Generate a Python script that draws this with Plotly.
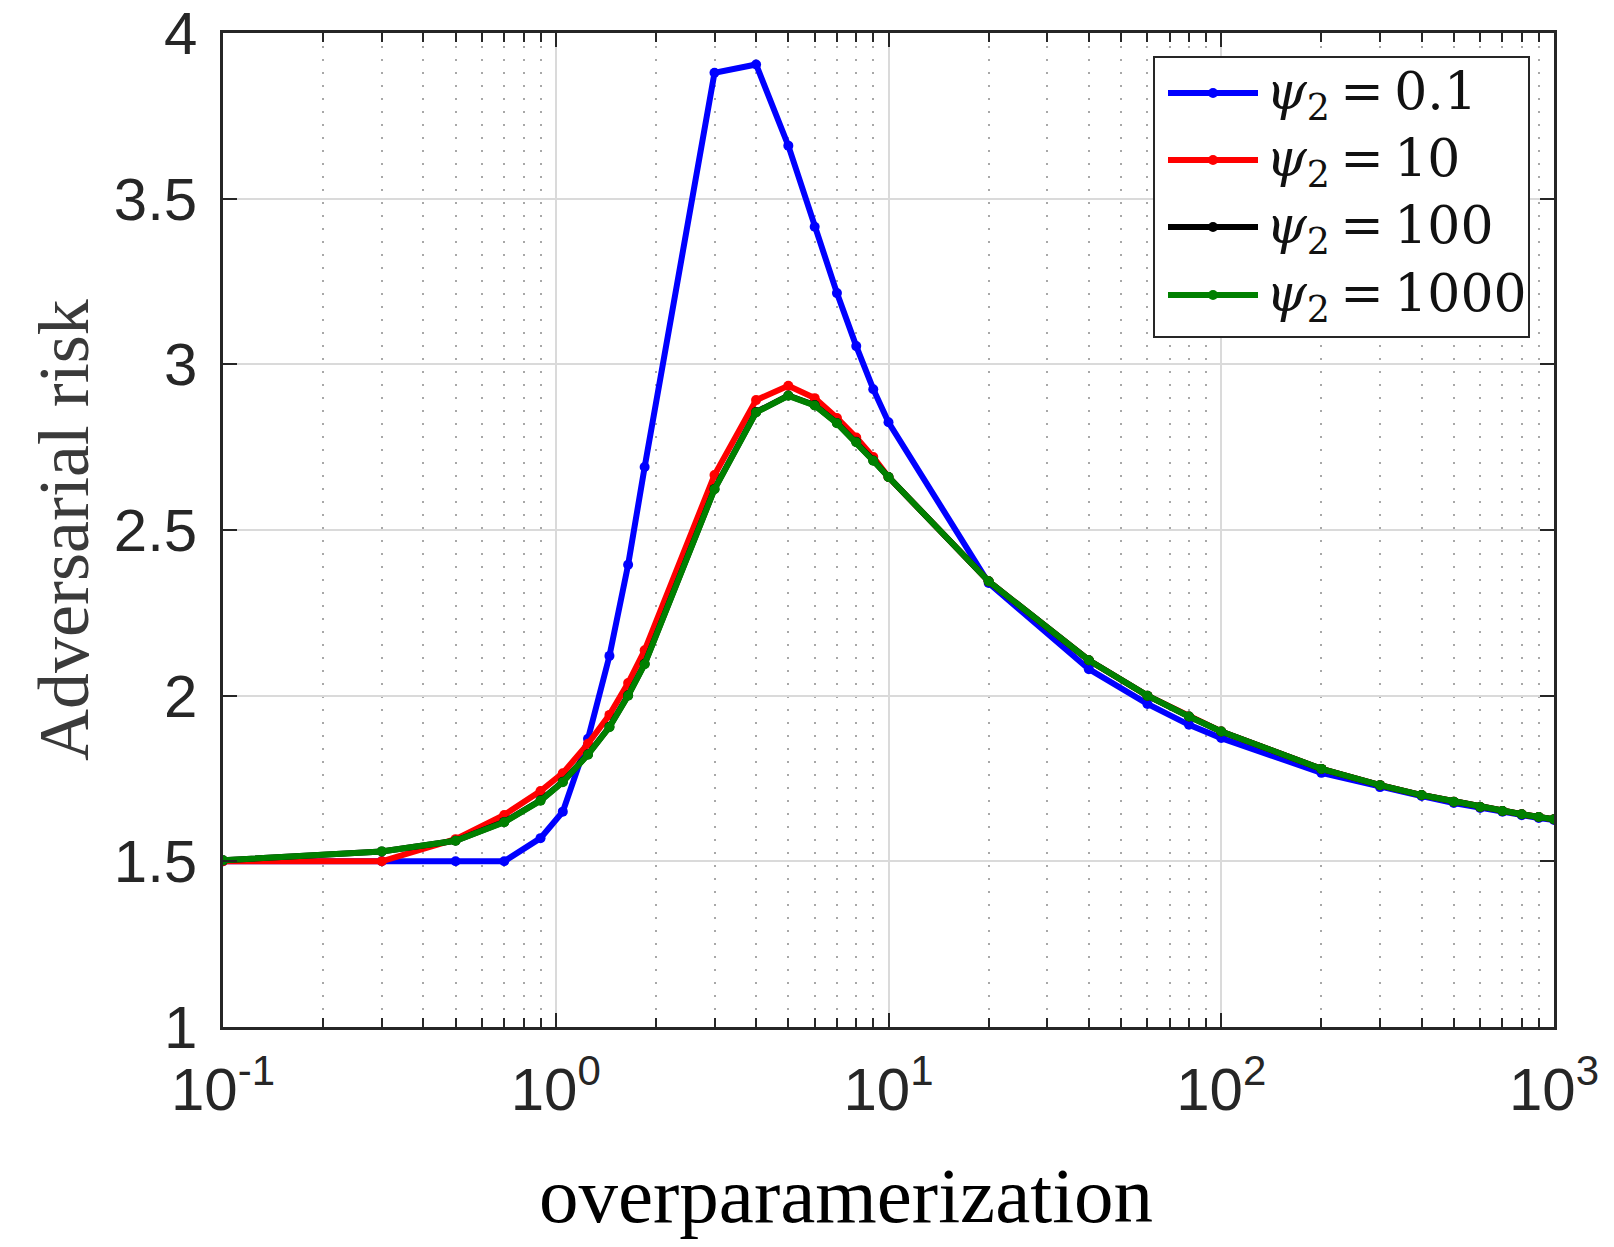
import plotly.graph_objects as go

# ---- data ----
overparam = [0.1, 0.3, 0.5, 0.7, 0.9, 1.05, 1.25, 1.45, 1.65, 1.85, 3, 4, 5, 6, 7, 8, 9, 10,
             20, 40, 60, 80, 100, 200, 300, 400, 500, 600, 700, 800, 900, 1000]

risk_psi_0_1 = [1.5, 1.5, 1.5, 1.5, 1.57, 1.65, 1.87, 2.12, 2.395, 2.69, 3.88, 3.905, 3.66,
                3.415, 3.215, 3.055, 2.925, 2.825, 2.34, 2.08, 1.975, 1.912, 1.872, 1.767,
                1.724, 1.697, 1.676, 1.661, 1.65, 1.639, 1.631, 1.625]

risk_psi_10 = [1.5, 1.5, 1.567, 1.64, 1.712, 1.766, 1.855, 1.942, 2.038, 2.137, 2.666, 2.892,
               2.935, 2.898, 2.838, 2.779, 2.72, 2.66, 2.345, 2.107, 2.0, 1.937, 1.892, 1.779,
               1.73, 1.70, 1.68, 1.664, 1.652, 1.642, 1.634, 1.627]

risk_psi_100 = [1.503, 1.53, 1.562, 1.619, 1.684, 1.740, 1.823, 1.906, 2.001, 2.096, 2.624,
                2.856, 2.906, 2.877, 2.823, 2.766, 2.710, 2.66, 2.345, 2.107, 2.0, 1.937,
                1.892, 1.779, 1.73, 1.70, 1.68, 1.664, 1.652, 1.642, 1.634, 1.627]

risk_psi_1000 = [1.503, 1.53, 1.562, 1.618, 1.683, 1.739, 1.822, 1.905, 2.0, 2.095, 2.623,
                 2.855, 2.905, 2.876, 2.822, 2.765, 2.709, 2.66, 2.345, 2.107, 2.0, 1.937,
                 1.892, 1.779, 1.73, 1.70, 1.68, 1.664, 1.652, 1.642, 1.634, 1.627]

series_labels = ["<i>ψ</i><sub>2</sub>\u2009=\u20090.1", "<i>ψ</i><sub>2</sub>\u2009=\u200910",
                 "<i>ψ</i><sub>2</sub>\u2009=\u2009100", "<i>ψ</i><sub>2</sub>\u2009=\u20091000"]
series_colors = ["#0000FF", "#FF0000", "#000000", "#008000"]
series_values = [risk_psi_0_1, risk_psi_10, risk_psi_100, risk_psi_1000]

x_tickvals = [0.1, 1, 10, 100, 1000]
x_ticktext = ["10<sup>-1</sup>", "10<sup>0</sup>", "10<sup>1</sup>", "10<sup>2</sup>", "10<sup>3</sup>"]
x_minor = [k * 10 ** e for e in range(-1, 3) for k in range(2, 10)]
y_tickvals = [1, 1.5, 2, 2.5, 3, 3.5, 4]
y_ticktext = ["1", "1.5", "2", "2.5", "3", "3.5", "4"]

fig = go.Figure()
for vals, col in zip(series_values, series_colors):
    fig.add_trace(go.Scatter(x=overparam, y=vals, mode="lines+markers",
                             line=dict(color=col, width=6),
                             marker=dict(color=col, size=10),
                             showlegend=False))

axis_col = "#262626"
fig.update_xaxes(type="log", range=[-1, 3], tickmode="array", tickvals=x_tickvals,
                 ticktext=x_ticktext, showgrid=True, gridcolor="#dadada", gridwidth=2,
                 ticks="inside", ticklen=14, tickwidth=2, tickcolor=axis_col,
                 showline=True, linecolor=axis_col, linewidth=2.5, mirror="ticks",
                 tickfont=dict(family="Liberation Sans, Arial", size=60, color=axis_col),
                 ticklabelstandoff=8, zeroline=False, automargin=False,
                 ticklabeloverflow="allow",
                 minor=dict(tickmode="array", tickvals=x_minor, ticks="inside", ticklen=9,
                            tickwidth=1.5, tickcolor=axis_col, showgrid=True,
                            gridcolor="#a8a8a8", griddash="2px,11px", gridwidth=1.5))
fig.update_yaxes(range=[1, 4], tickmode="array", tickvals=y_tickvals, ticktext=y_ticktext,
                 showgrid=True, gridcolor="#dadada", gridwidth=2,
                 ticks="inside", ticklen=14, tickwidth=2, tickcolor=axis_col,
                 showline=True, linecolor=axis_col, linewidth=2.5, mirror="ticks",
                 tickfont=dict(family="Liberation Sans, Arial", size=60, color=axis_col),
                 ticklabelstandoff=11, zeroline=False, automargin=False,
                 ticklabeloverflow="allow")

# page body has an 8px margin; figure coords = screen coords - 8
OFF = 8
W, H = 1598, 1231
plot_left, plot_right, plot_top, plot_bottom = 223, 1554, 33, 1027  # screen px
L = plot_left - OFF
T = plot_top - OFF
R = W - (plot_right - OFF)
B = H - (plot_bottom - OFF)
pw, ph = W - L - R, H - T - B

def px_x(p):
    return (p - OFF - L) / pw

def px_y(p):
    return (H - B - (p - OFF)) / ph

shapes = []
annotations = []
# legend box
shapes.append(dict(type="rect", xref="paper", yref="paper",
                   x0=px_x(1154), x1=px_x(1529), y0=px_y(337), y1=px_y(57),
                   fillcolor="white", line=dict(color=axis_col, width=2), layer="above"))
row_y = [93, 160, 227, 295]
for lab, col, ry in zip(series_labels, series_colors, row_y):
    shapes.append(dict(type="line", xref="paper", yref="paper",
                       x0=px_x(1168), x1=px_x(1258), y0=px_y(ry), y1=px_y(ry),
                       line=dict(color=col, width=6), layer="above"))
    shapes.append(dict(type="circle", xref="paper", yref="paper",
                       x0=px_x(1208), x1=px_x(1218), y0=px_y(ry + 5), y1=px_y(ry - 5),
                       fillcolor=col, line=dict(color=col, width=0), layer="above"))
    annotations.append(dict(xref="paper", yref="paper", x=px_x(1264), y=px_y(ry + 2),
                            xanchor="left", yanchor="middle", showarrow=False,
                            text=lab,
                            font=dict(family="DejaVu Serif", size=52, color="#111111")))

annotations.append(dict(xref="paper", yref="paper", x=px_x(846), y=px_y(1195),
                        xanchor="center", yanchor="middle", showarrow=False,
                        text="overparamerization",
                        font=dict(family="Liberation Serif, Times New Roman", size=79,
                                  color="#000000")))
annotations.append(dict(xref="paper", yref="paper", x=px_x(64), y=px_y(530),
                        xanchor="center", yanchor="middle", showarrow=False, textangle=-90,
                        text="Adversarial risk",
                        font=dict(family="Liberation Serif, Times New Roman", size=72,
                                  color="#3a3a3a")))

fig.update_layout(width=W, height=H, margin=dict(l=L, r=R, t=T, b=B, autoexpand=False),
                  paper_bgcolor="white", plot_bgcolor="white",
                  shapes=shapes, annotations=annotations, showlegend=False)

fig.write_html("out.html")
